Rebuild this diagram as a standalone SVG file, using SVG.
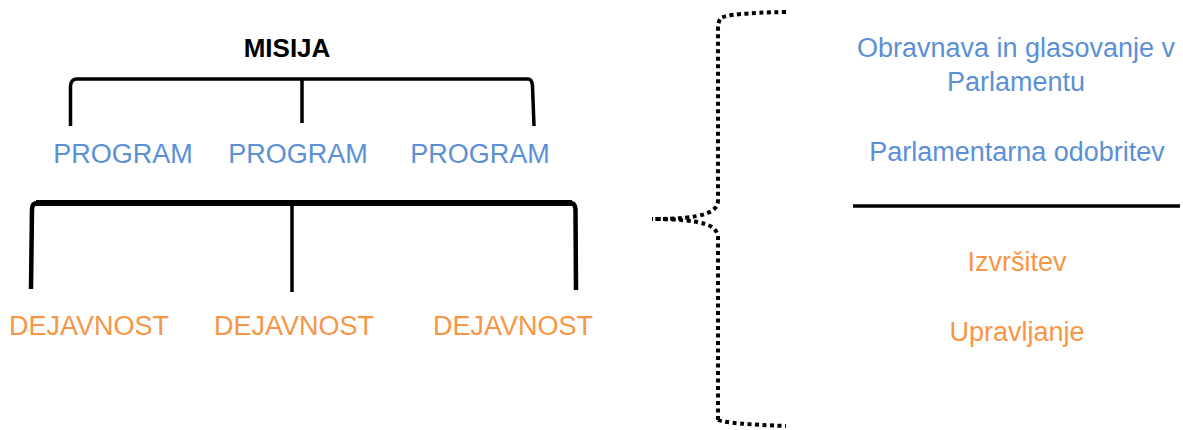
<svg xmlns="http://www.w3.org/2000/svg" width="1183" height="430" viewBox="0 0 1183 430">
<style>
text{font-family:"Liberation Sans",Arial,sans-serif;font-size:27px;text-anchor:middle}
.b{fill:#5b8fd6}
.o{fill:#f79646}
.t{font-weight:bold;fill:#000;font-size:26px}
.br{fill:none;stroke:#000;stroke-linecap:butt}
.dot{fill:none;stroke:#000;stroke-width:4;stroke-dasharray:4 3.5}
</style>
<rect width="1183" height="430" fill="#fff"/>
<g id="connectors">
<path class="br" stroke-width="3.5" d="M70.5,126 V86 Q71,79 77,79 H528 Q532,79 532.5,86 L534,126"/>
<path class="br" stroke-width="3.5" d="M302,79 V123"/>
<path class="br" stroke-width="4.5" d="M31,289 L32,209 Q32,203 38,203 H570 Q575,203 575.5,209 L576,290"/>
<path class="br" stroke-width="6" d="M36,203 H572"/>
<path class="br" stroke-width="3.5" d="M292,203 V292"/>
<path class="dot" d="M786,12 Q728,13 721,18 Q718,21 718,30 V200 Q718,210 705,214 Q690,219 652,219 M718,420 Q728,424 786,426 M718,420 V238 Q718,228 705,224 Q690,219 652,219"/>
<line class="br" stroke-width="3.5" x1="853" y1="206" x2="1180" y2="206"/>
</g>
<g id="misija"><text class="t" x="287" y="57">MISIJA</text></g>
<g id="program1"><text class="b" x="123" y="163">PROGRAM</text></g>
<g id="program2"><text class="b" x="298" y="163">PROGRAM</text></g>
<g id="program3"><text class="b" x="480" y="163">PROGRAM</text></g>
<g id="dejavnost1"><text class="o" x="89" y="335">DEJAVNOST</text></g>
<g id="dejavnost2"><text class="o" x="294" y="335">DEJAVNOST</text></g>
<g id="dejavnost3"><text class="o" x="513" y="335">DEJAVNOST</text></g>
<g id="obravnava"><text class="b" x="1016" y="57">Obravnava in glasovanje v</text><text class="b" x="1016" y="91">Parlamentu</text></g>
<g id="odobritev"><text class="b" x="1017" y="161">Parlamentarna odobritev</text></g>
<g id="izvrsitev"><text class="o" x="1017" y="271">Izvršitev</text></g>
<g id="upravljanje"><text class="o" x="1017" y="341">Upravljanje</text></g>
</svg>
